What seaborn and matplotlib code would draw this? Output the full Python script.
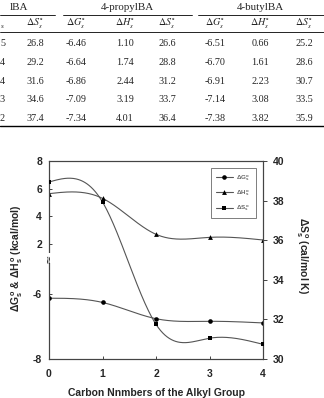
import numpy as np
import pandas as pd
import matplotlib
matplotlib.use("Agg")
import matplotlib.pyplot as plt
import seaborn as sns
from matplotlib.lines import Line2D
from matplotlib.ticker import NullLocator

# ---------------- data ----------------
# table (top, partially cropped at the left edge: only visible parts kept)
ethyl_header_visible = "lBA"
ethyl_H_visible = ["5", "4", "4", "3", "2"]
ethyl_S = [26.8, 29.2, 31.6, 34.6, 37.4]
propyl_G = [-6.46, -6.64, -6.86, -7.09, -7.34]
propyl_H = [1.10, 1.74, 2.44, 3.19, 4.01]
propyl_S = [26.6, 28.8, 31.2, 33.7, 36.4]
butyl_G = [-6.51, -6.70, -6.91, -7.14, -7.38]
butyl_H = [0.66, 1.61, 2.23, 3.08, 3.82]
butyl_S = [25.2, 28.6, 30.7, 33.5, 35.9]
groups = ["4-propylBA", "4-butylBA"]

# chart
carbon = [0, 1, 2, 3, 4]
dG = [-6.13, -6.26, -6.76, -6.84, -6.89]
dH = [5.64, 5.30, 2.70, 2.48, 2.29]
dS = [38.94, 37.93, 31.75, 31.05, 30.74]
left_ticks = [-8, -6, 2, 4, 6, 8]
right_ticks = [30, 32, 34, 36, 38, 40]

# ---------------- style ----------------
sns.set_style("ticks")
plt.rcParams["font.family"] = ["Liberation Sans", "DejaVu Sans"]
plt.rcParams["mathtext.fontset"] = "custom"
plt.rcParams["mathtext.rm"] = "Liberation Sans:bold"
plt.rcParams["mathtext.it"] = "Liberation Sans:bold"
plt.rcParams["mathtext.bf"] = "Liberation Sans:bold"

W, H = 324, 398
fig = plt.figure(figsize=(W / 100, H / 100), dpi=100)


def P(x, y):
    return x / W, 1 - y / H


# ---------------- table ----------------
serif = dict(family="Liberation Serif", fontsize=7.3)
hserif = dict(family="Liberation Serif", fontsize=7.9)
fig.text(*P(28, 9.5), ethyl_header_visible, ha="right", va="baseline", **hserif)
fig.text(*P(127, 9.5), groups[0], ha="center", va="baseline", **hserif)
fig.text(*P(260, 9.5), groups[1], ha="center", va="baseline", **hserif)
for x0, x1 in [(0, 55), (63, 192), (198, 324)]:
    fig.add_artist(Line2D([x0 / W, x1 / W], [1 - 14.7 / H] * 2,
                          transform=fig.transFigure, color="k", lw=0.6))
for yy, lw in [(31.5, 0.6), (125.7, 1.0)]:
    fig.add_artist(Line2D([0, 1], [1 - yy / H] * 2,
                          transform=fig.transFigure, color="k", lw=lw))

hdr = {"G": r"$\Delta G^{\circ}_{s}$", "H": r"$\Delta H^{\circ}_{s}$", "S": r"$\Delta S^{\circ}_{s}$"}
cols = [("S", 35, ethyl_S, "{:.1f}"),
        ("G", 76, propyl_G, "{:.2f}"), ("H", 125, propyl_H, "{:.2f}"), ("S", 167, propyl_S, "{:.1f}"),
        ("G", 215, butyl_G, "{:.2f}"), ("H", 260, butyl_H, "{:.2f}"), ("S", 304, butyl_S, "{:.1f}")]
row_base = [46.5, 65.0, 83.5, 102.0, 121.0]
fig.text(*P(1, 27.5), "s", ha="left", va="baseline", family="Liberation Serif",
         fontsize=5.2, style="italic")
for k, x, vals, fmt in cols:
    fig.text(*P(x, 26), hdr[k], ha="center", va="baseline", math_fontfamily="stix", **serif)
    for yb, v in zip(row_base, vals):
        fig.text(*P(x, yb), fmt.format(v), ha="center", va="baseline", **serif)
for yb, s in zip(row_base, ethyl_H_visible):
    fig.text(*P(5, yb), s, ha="right", va="baseline", **serif)

# ---------------- chart ----------------
ax = fig.add_axes([49 / W, 1 - 359 / H, (263 - 49) / W, (359 - 161) / H])


def fwd(y):
    y = np.asarray(y, dtype=float)
    return np.where(y < -6, (y + 8) * 32.5,
                    np.where(y < 2, 65 + (y + 6) * 6.25, 115 + (y - 2) * (83 / 6)))


def inv(u):
    u = np.asarray(u, dtype=float)
    return np.where(u < 65, u / 32.5 - 8,
                    np.where(u < 115, (u - 65) / 6.25 - 6, 2 + (u - 115) * 6 / 83))


ax.set_yscale("function", functions=(fwd, inv))
ax.set_ylim(-8, 8)
ax.set_xlim(0, 4)


def natural_spline(x, y, xs):
    x = np.asarray(x, float); y = np.asarray(y, float)
    n = len(x)
    h = np.diff(x)
    A = np.zeros((n, n)); b = np.zeros(n)
    A[0, 0] = A[-1, -1] = 1
    for i in range(1, n - 1):
        A[i, i - 1] = h[i - 1]; A[i, i] = 2 * (h[i - 1] + h[i]); A[i, i + 1] = h[i]
        b[i] = 6 * ((y[i + 1] - y[i]) / h[i] - (y[i] - y[i - 1]) / h[i - 1])
    M = np.linalg.solve(A, b)
    idx = np.clip(np.searchsorted(x, xs) - 1, 0, n - 2)
    x0, x1, hh = x[idx], x[idx + 1], h[idx]
    t0, t1 = x1 - xs, xs - x0
    return (M[idx] * t0 ** 3 / (6 * hh) + M[idx + 1] * t1 ** 3 / (6 * hh)
            + (y[idx] / hh - M[idx] * hh / 6) * t0 + (y[idx + 1] / hh - M[idx + 1] * hh / 6) * t1)


xs = np.linspace(0, 4, 300)
curves = pd.DataFrame({"x": xs,
                       "G": natural_spline(carbon, dG, xs),
                       "H": natural_spline(carbon, dH, xs),
                       "S": natural_spline(carbon, dS, xs)})
pts = pd.DataFrame({"x": carbon, "G": dG, "H": dH, "S": dS})

lc = "#555555"
sns.lineplot(data=curves, x="x", y="G", ax=ax, color=lc, lw=0.8)
sns.lineplot(data=curves, x="x", y="H", ax=ax, color=lc, lw=0.8)
sns.scatterplot(data=pts, x="x", y="G", ax=ax, marker="o", s=11, color="k", edgecolor="k", linewidth=0, zorder=3)
sns.scatterplot(data=pts, x="x", y="H", ax=ax, marker="^", s=12, color="k", edgecolor="k", linewidth=0, zorder=3)

ax2 = ax.twinx()
sns.lineplot(data=curves, x="x", y="S", ax=ax2, color=lc, lw=0.8)
sns.scatterplot(data=pts, x="x", y="S", ax=ax2, marker="s", s=10, color="k", edgecolor="k", linewidth=0, zorder=3)
ax2.set_ylim(30, 40)
ax2.set_xlim(0, 4)

ax.set_yticks(left_ticks)
ax.set_yticklabels([str(t) for t in left_ticks])
ax.yaxis.set_minor_locator(NullLocator())
ax.set_xticks(carbon)
ax2.set_yticks(right_ticks)
for a in (ax, ax2):
    a.set_xlabel(""); a.set_ylabel("")
    for s in a.spines.values():
        s.set_linewidth(0.8)
        s.set_color("#444444")
ax.tick_params(axis="y", direction="in", length=2.5, width=0.6, pad=5, labelsize=7.5)
ax.tick_params(axis="x", direction="in", length=2, width=0.6, pad=7, labelsize=7.5)
ax2.tick_params(axis="y", direction="out", length=3, width=0.6, pad=4, labelsize=7.5)
for lab in ax.get_xticklabels() + ax.get_yticklabels() + ax2.get_yticklabels():
    lab.set_fontweight("bold")

# axis break mark
ax2.text(0, 101 / 198, "\u2248", rotation=90, transform=ax2.transAxes, ha="center", va="center",
         fontsize=8, color="#222222", clip_on=False, family="DejaVu Sans",
         bbox=dict(facecolor="white", edgecolor="none", pad=0.0), zorder=6)

# labels
fig.text(*P(156, 392.5), "Carbon Nnmbers of the Alkyl Group", ha="center", va="center",
         fontsize=7.5, fontweight="bold")
fig.text(*P(17, 258), r"$\Delta G^{o}_{s}$ & $\Delta H^{o}_{s}$ (kcal/mol)", rotation=90,
         ha="center", va="center", fontsize=7.5, fontweight="bold")
fig.text(*P(302, 256), r"$\Delta S^{o}_{s}$ (cal/mol K)", rotation=270,
         ha="center", va="center", fontsize=7.5, fontweight="bold")

# legend
handles = [Line2D([], [], color=lc, lw=0.8, marker=m, markersize=ms, markerfacecolor="k",
                  markeredgecolor="k", markeredgewidth=0)
           for m, ms in [("o", 3.3), ("^", 3.5), ("s", 3.0)]]
labels = [r"$\Delta G^{o}_{s}$", r"$\Delta H^{o}_{s}$", r"$\Delta S^{o}_{s}$"]
leg = ax2.legend(handles, labels, loc="upper right", bbox_to_anchor=(0.965, 0.965),
                 fontsize=4.5, frameon=True, fancybox=False, handlelength=2.6,
                 borderpad=0.8, labelspacing=0.9, handletextpad=0.6, borderaxespad=0)
leg.get_frame().set_edgecolor("#444444")
leg.get_frame().set_linewidth(0.6)
for t in leg.get_texts():
    t.set_color("#666666")
    t.set_fontweight("normal")

fig.savefig("out.png", dpi=100)
